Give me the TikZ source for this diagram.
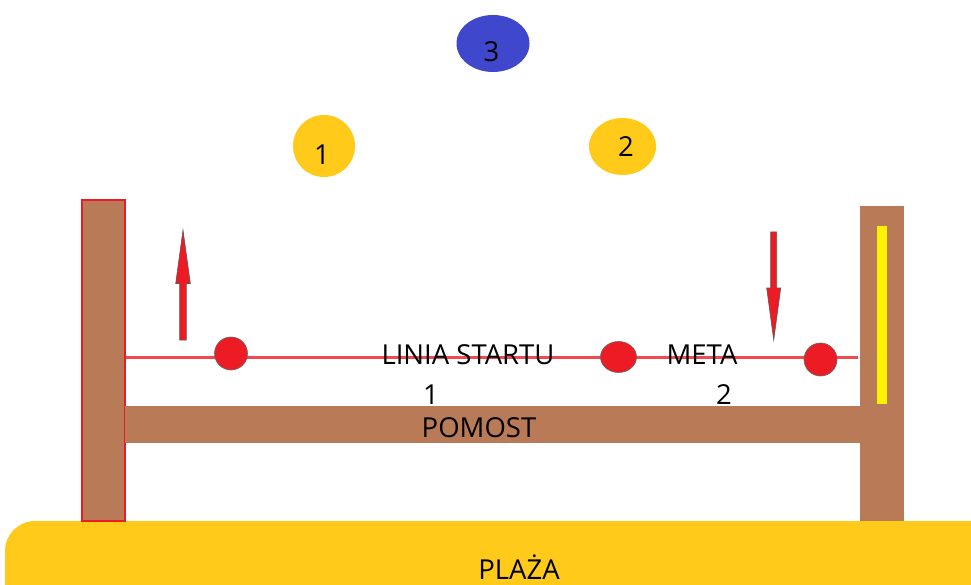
\documentclass[tikz,border=0pt]{standalone}
\usepackage{fontspec}
\setmainfont{Open Sans}
\usetikzlibrary{shapes.geometric}
\definecolor{wood}{HTML}{B97A57}
\definecolor{sand}{HTML}{FFCA1A}
\definecolor{buoyblue}{HTML}{3F48CC}
\definecolor{flagred}{HTML}{ED1C24}
\definecolor{linered}{HTML}{EE4A50}
\definecolor{tapeyellow}{HTML}{FFF200}
\tikzset{lbl/.style={font=\fontsize{27.5}{32}\selectfont,inner sep=0pt,anchor=base,text=black}}
\begin{document}
\begin{tikzpicture}[x=1pt,y=-1pt]%
                    \useasboundingbox (0,0) rectangle (971,585); %%
                    \clip (0,0) rectangle (971,585); %%
                    % beach
                        \fill[sand,rounded corners=30] (5,521) rectangle (1010,640); %%
                        \node[lbl] (plaza) at (519,579) {PLAŻA}; %%
                    % posts and pier
                        \filldraw[fill=wood,draw=flagred,line width=1.2] (82,200) rectangle (125,521); %%
                        \fill[wood] (860,206) rectangle (904,521); %%
                        \fill[wood] (124.5,406) rectangle (860,443); %%
                        \fill[tapeyellow] (877,226) rectangle (887,404); %%
                        \node[lbl] (pomost) at (479,437) {POMOST}; %%
                    % start line
                        \coordinate (ls) at (125.5,357.5); %%
                        \coordinate (le) at (858,357.5); %%
                        \draw[color=linered,line width=2.2] (ls)--(le); %%
                    \begin{scope}
                        \tikzstyle{every node}=[draw=black!60,ellipse,fill=flagred,line width=.6];%%
                        \node[minimum width=33,minimum height=33] (d1) at (231,353.5)  {}; %%
                        \node[minimum width=36,minimum height=31] (d2) at (618.5,357)  {}; %%
                        \node[minimum width=33,minimum height=33] (d3) at (820.5,359.5)  {}; %%
                    \end{scope}
                        \node[lbl] (start) at (468,364) {LINIA STARTU}; %%
                        \node[lbl] (meta) at (702,364) {META}; %%
                        \node[lbl] (n1) at (431,404) {1}; %%
                        \node[lbl] (n2) at (724,404) {2}; %%
                    % arrows
                        \filldraw[fill=flagred,draw=black!65,line width=.6] (183,230) -- (190.3,283.5) -- (186.3,283.5) -- (186.3,340) -- (179.7,340) -- (179.7,283.5) -- (175.7,283.5) -- cycle; %%
                        \filldraw[fill=flagred,draw=black!65,line width=.6] (773.7,340) -- (780.7,288) -- (776.7,288) -- (776.7,232) -- (770.7,232) -- (770.7,288) -- (766.7,288) -- cycle; %%
                    % buoys
                    \begin{scope}
                        \tikzstyle{every node}=[ellipse,inner sep=0pt];%%
                        \node[fill=sand,minimum width=62,minimum height=62] (b1) at (324,146)  {}; %%
                        \node[fill=sand,minimum width=67,minimum height=57] (b2) at (622.5,146.5)  {}; %%
                        \node[fill=buoyblue,minimum width=73,minimum height=57] (b3) at (493,43.5)  {}; %%
                    \end{scope}
                        \node[lbl] (t1) at (322,165) {1}; %%
                        \node[lbl] (t2) at (626,157) {2}; %%
                        \node[lbl] (t3) at (491.5,61.5) {3}; %%
                    \end{tikzpicture}
\end{document}
